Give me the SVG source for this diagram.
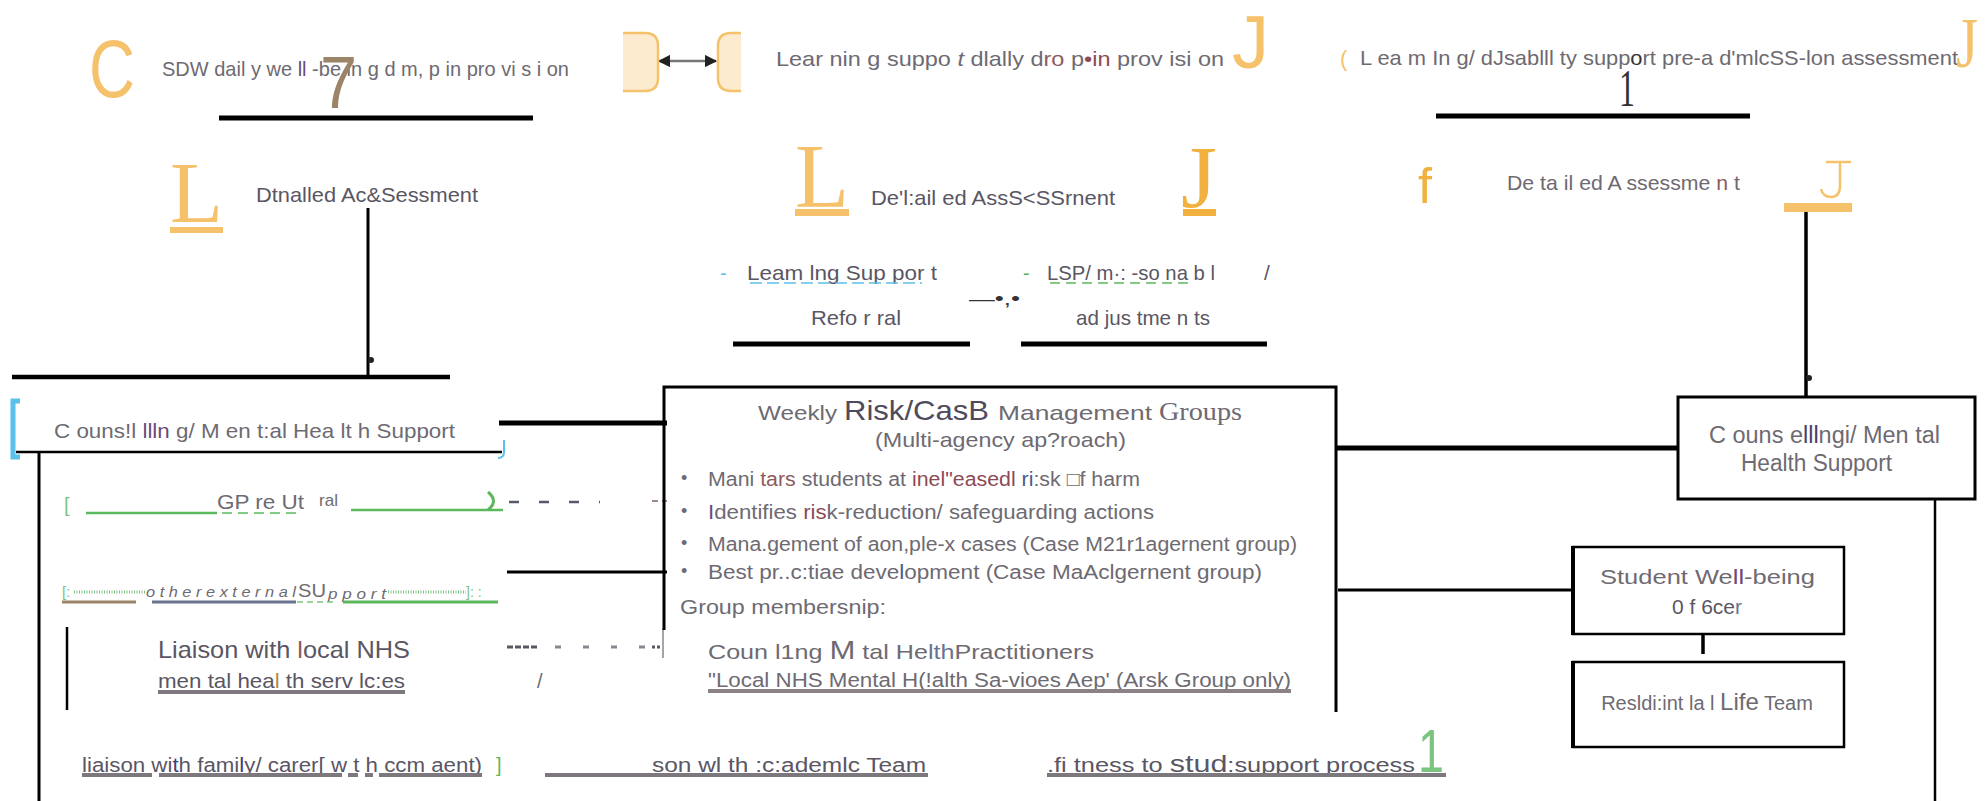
<svg xmlns="http://www.w3.org/2000/svg" width="1987" height="801" viewBox="0 0 1987 801">
<defs>
<marker id="ah" viewBox="0 0 10 10" refX="9" refY="5" markerWidth="5" markerHeight="5" orient="auto-start-reverse"><path d="M0,0 L10,5 L0,10 z" fill="#222"/></marker>
</defs>
<style>
.t{font-family:"Liberation Sans",Arial,sans-serif;fill:#6e6a72;}
.d{fill:#5a5663;}
.s{font-family:"Liberation Serif","Times New Roman",serif;}
.o{fill:#f5c26b;}
.k{stroke:#000;fill:none;}
.u{stroke:#7d777e;stroke-width:4;fill:none;}
</style>
<rect width="1987" height="801" fill="#fff"/>

<g id="connectors" class="k">
  <line x1="219" y1="118" x2="533" y2="118" stroke-width="5"/>
  <line x1="1436" y1="116" x2="1750" y2="116" stroke-width="5"/>
  <line x1="368" y1="208" x2="368" y2="377" stroke-width="3"/>
  <line x1="12" y1="377" x2="450" y2="377" stroke-width="4.5"/>
  <line x1="1806" y1="212" x2="1806" y2="396" stroke-width="3.5"/>
  <line x1="1336" y1="448" x2="1680" y2="448" stroke-width="5"/>
  <line x1="733" y1="344" x2="970" y2="344" stroke-width="5"/>
  <line x1="1021" y1="344" x2="1267" y2="344" stroke-width="5"/>
  <line x1="16" y1="452" x2="502" y2="452" stroke-width="2.5"/>
  <line x1="499" y1="423" x2="667" y2="423" stroke-width="5"/>
  <line x1="39" y1="452" x2="39" y2="801" stroke-width="3"/>
  <line x1="509" y1="502" x2="600" y2="502" stroke="#555a6a" stroke-width="2.5" stroke-dasharray="10,20"/>
  <line x1="652" y1="501" x2="667" y2="501" stroke="#a08a8a" stroke-width="2" stroke-dasharray="6,4"/>
  <line x1="507" y1="572" x2="667" y2="572" stroke-width="3"/>
  <line x1="67" y1="627" x2="67" y2="710" stroke-width="2.5"/>
  <line x1="507" y1="647" x2="538" y2="647" stroke="#5a5663" stroke-width="3" stroke-dasharray="6,2"/>
  <line x1="555" y1="647" x2="650" y2="647" stroke="#8a8590" stroke-width="3" stroke-dasharray="6,22"/>
  <line x1="652" y1="647" x2="660" y2="647" stroke="#5a5663" stroke-width="3" stroke-dasharray="3,2"/>
  <line x1="663" y1="628" x2="663" y2="658" stroke="#8a8590" stroke-width="1.5"/>
  <line x1="1338" y1="590" x2="1573" y2="590" stroke-width="3"/>
  <line x1="1703" y1="634" x2="1703" y2="654" stroke-width="3.5"/>
  <line x1="1935" y1="498" x2="1935" y2="801" stroke-width="2.5"/>
  <line x1="659" y1="61" x2="716" y2="61" stroke="#777" stroke-width="2.5" marker-start="url(#ah)" marker-end="url(#ah)"/>
  <circle cx="371" cy="360" r="3" fill="#222" stroke="none"/>
  <circle cx="1809" cy="378" r="3" fill="#222" stroke="none"/>
</g>

<g id="sdw-dropin">
  <text class="t o" x="89" y="97" font-size="82" textLength="46" lengthAdjust="spacingAndGlyphs">C</text>
  <text class="t" x="162" y="76" font-size="21" textLength="407" lengthAdjust="spacingAndGlyphs">SDW    dail y we <tspan fill="#6a4a7a">ll</tspan> -be in g d m, p in pro vi s i on</text>
  <text class="t" x="320" y="108" font-size="74" fill="#9b8468" style="fill:#9b8468" textLength="37" lengthAdjust="spacingAndGlyphs">7</text>
</g>

<g id="link-nodes">
  <rect x="623" y="32" width="36" height="60" rx="12" fill="#fdebd0" stroke="none"/>
  <rect x="623" y="32" width="20" height="60" fill="#fdebd0" stroke="none"/>
  <path d="M623,33 H645 Q658,33 658,46 V78 Q658,91 645,91 H623" fill="none" stroke="#f5c26b" stroke-width="2.5"/>
  <path d="M741,33 H731 Q718,33 718,46 V78 Q718,91 731,91 H741 Z" fill="#fdebd0" stroke="none"/>
  <path d="M741,33 H731 Q718,33 718,46 V78 Q718,91 731,91 H741" fill="none" stroke="#f5c26b" stroke-width="2.5"/>
</g>

<g id="ls-dropin">
  <text class="t" x="776" y="66" font-size="21" textLength="448" lengthAdjust="spacingAndGlyphs">Lear nin g suppo <tspan font-style="italic">t</tspan> dlally d<tspan fill="#8d5a5e">ro</tspan> p<tspan fill="#8d4a55">•in</tspan> prov isi on</text>
  <text class="t o" x="1232" y="68" font-size="75" textLength="37" lengthAdjust="spacingAndGlyphs">J</text>
</g>

<g id="ls-preadmission">
  <text class="t o" x="1340" y="66" font-size="22">(</text>
  <text class="t" x="1360" y="65" font-size="21" textLength="598" lengthAdjust="spacingAndGlyphs">L ea m In g/ dJsablll ty supp<tspan fill="#333">o</tspan>rt pre-a d'mlcSS-lon assessment</text>
  <text class="s o" x="1956" y="67" font-size="72" textLength="22" lengthAdjust="spacingAndGlyphs">J</text>
  <text class="s" x="1619" y="106" font-size="52" fill="#333" textLength="16" lengthAdjust="spacingAndGlyphs">1</text>
</g>

<g id="assessment-left">
  <text class="s o" x="170" y="222" font-size="86" textLength="53" lengthAdjust="spacingAndGlyphs">L</text>
  <rect x="170" y="227" width="53" height="6" fill="#f5c26b"/>
  <text class="t d" x="256" y="202" font-size="21" textLength="222" lengthAdjust="spacingAndGlyphs">Dtnalled  Ac&amp;Sessment</text>
</g>

<g id="assessment-mid">
  <text class="s o" x="795" y="207" font-size="90" textLength="54" lengthAdjust="spacingAndGlyphs">L</text>
  <rect x="795" y="209" width="54" height="7" fill="#f5c26b"/>
  <text class="t d" x="871" y="205" font-size="21" textLength="244" lengthAdjust="spacingAndGlyphs">De'l:ail  ed  AssS&lt;SSrnent</text>
  <text class="s" x="1181" y="207" font-size="88" fill="#f2b13f" textLength="36" lengthAdjust="spacingAndGlyphs">J</text>
  <rect x="1183" y="209" width="33" height="7" fill="#f2b13f"/>
  <text class="t" x="720" y="280" font-size="20" fill="#5bc0eb" style="fill:#5bc0eb">-</text>
  <text class="t d" x="747" y="280" font-size="21" textLength="190" lengthAdjust="spacingAndGlyphs">Leam  lng  Sup  por t</text>
  <line x1="750" y1="283" x2="922" y2="283" stroke="#5bc0eb" stroke-width="1.5" stroke-dasharray="12,5"/>
  <text class="t" x="1023" y="280" font-size="20" style="fill:#5cb85c">-</text>
  <text class="t d" x="1047" y="280" font-size="21" textLength="168" lengthAdjust="spacingAndGlyphs">LSP/ m·: -so na  b l</text>
  <line x1="1050" y1="283" x2="1190" y2="283" stroke="#5cb85c" stroke-width="1.5" stroke-dasharray="10,6"/>
  <text class="t d" x="1264" y="280" font-size="21">/</text>
  <text class="t d" x="811" y="325" font-size="21" textLength="90" lengthAdjust="spacingAndGlyphs">Refo r ral</text>
  <text class="t" x="969" y="305" font-size="18" style="fill:#333" textLength="51" lengthAdjust="spacingAndGlyphs">—•,•</text>
  <text class="t d" x="1076" y="325" font-size="21" textLength="134" lengthAdjust="spacingAndGlyphs">ad jus tme n ts</text>
</g>

<g id="assessment-right">
  <text class="t" x="1418" y="203" font-size="50" style="fill:#f2b13f" textLength="14" lengthAdjust="spacingAndGlyphs">f</text>
  <text class="t" x="1507" y="190" font-size="21" textLength="233" lengthAdjust="spacingAndGlyphs">De ta il ed A ssessme <tspan fill="#8d5a5e">n</tspan> t</text>
  <path d="M1840,162 V186 Q1840,197 1831,197 Q1823,197 1821,189 M1826,162 H1851" fill="none" stroke="#f5c26b" stroke-width="2.5"/>
  <rect x="1784" y="203" width="68" height="9" fill="#f5c26b"/>
</g>

<g id="counselling-right">
  <rect x="1678" y="397" width="297" height="102" fill="#fff" stroke="#000" stroke-width="3"/>
  <text class="t" x="1709" y="443" font-size="23" textLength="231" lengthAdjust="spacingAndGlyphs">C ouns  e<tspan fill="#4a3f6a">lll</tspan>ngi/ Men tal</text>
  <text class="t" x="1741" y="471" font-size="23" textLength="151" lengthAdjust="spacingAndGlyphs">Health  Support</text>
</g>

<g id="risk-groups">
  <path d="M664,630 V387 H1336 V712" fill="none" stroke="#000" stroke-width="3"/>
  <text class="t" x="758" y="420" font-size="21" textLength="79" lengthAdjust="spacingAndGlyphs">Weekly</text>
  <text class="t" x="844" y="420" font-size="28" style="fill:#4f4b5c" textLength="145" lengthAdjust="spacingAndGlyphs">Risk/CasB</text>
  <text class="t" x="998" y="420" font-size="21" textLength="154" lengthAdjust="spacingAndGlyphs">Management</text>
  <text class="s" x="1159" y="420" font-size="25" fill="#6e6a72" textLength="83" lengthAdjust="spacingAndGlyphs">Groups</text>
  <text class="t" x="875" y="447" font-size="21" textLength="251" lengthAdjust="spacingAndGlyphs">(Multi-agency ap?roach)</text>
  <g class="t" font-size="18">
    <text x="681" y="484">•</text><text x="681" y="517">•</text><text x="681" y="549">•</text><text x="681" y="577">•</text>
  </g>
  <text class="t" x="708" y="486" font-size="20" textLength="432" lengthAdjust="spacingAndGlyphs">Mani <tspan fill="#8d5a5e">tars</tspan> students at <tspan fill="#8d4a55">inel"easedl</tspan> <tspan fill="#4a5a8d">ri</tspan>:sk □f harm</text>
  <text class="t" x="708" y="519" font-size="20" textLength="446" lengthAdjust="spacingAndGlyphs"><tspan fill="#6a4a7a">I</tspan>dentifies  <tspan fill="#8d4a55">ris</tspan>k-reduct<tspan fill="#4a5a8d">i</tspan>on/ safeguarding actions</text>
  <text class="t" x="708" y="551" font-size="20" textLength="589" lengthAdjust="spacingAndGlyphs">Mana.gement of aon,ple-x cases (Case M21r1agernent group)</text>
  <text class="t" x="708" y="579" font-size="20" textLength="554" lengthAdjust="spacingAndGlyphs">Best pr..c:tiae deve<tspan fill="#4a5a8d">l</tspan>opment (Case MaAclgernent  group)</text>
  <text class="t" x="680" y="614" font-size="21" textLength="206" lengthAdjust="spacingAndGlyphs">Group membersnip:</text>
  <text class="t" x="708" y="659" font-size="21" textLength="386" lengthAdjust="spacingAndGlyphs">Coun l1ng <tspan font-size="26">M</tspan>  tal He<tspan fill="#6a7390">lth</tspan>Practitioners</text>
  <text class="t" x="708" y="687" font-size="20" textLength="583" lengthAdjust="spacingAndGlyphs">"Local NHS Mental H(!alth Sa-vioes Aep' (Arsk Group only)</text>
  <line x1="708" y1="691" x2="1291" y2="691" stroke="#8a8287" stroke-width="4"/>
</g>

<g id="counselling-left">
  <path d="M20,401 H13 V457 H20" fill="none" stroke="#5bc0eb" stroke-width="5"/>
  <text class="t" x="54" y="438" font-size="21" textLength="401" lengthAdjust="spacingAndGlyphs">C ouns!l   <tspan fill="#6a4a7a">llln</tspan> g/   M  en  t:al  Hea lt h Support</text>
  <path d="M504,440 V452 Q504,458 498,458" fill="none" stroke="#5bc0eb" stroke-width="2"/>
</g>

<g id="gp-referral">
  <text class="t" x="64" y="512" font-size="20" style="fill:#7bc47f">[</text>
  <line x1="86" y1="513" x2="217" y2="513" stroke="#5cb85c" stroke-width="2.5"/>
  <text class="t" x="217" y="509" font-size="21" textLength="87" lengthAdjust="spacingAndGlyphs">GP  re Ut</text>
  <line x1="222" y1="513" x2="300" y2="513" stroke="#5cb85c" stroke-width="1.5" stroke-dasharray="10,6"/>
  <text class="t" x="319" y="506" font-size="17" textLength="19" lengthAdjust="spacingAndGlyphs">ral</text>
  <line x1="351" y1="510" x2="503" y2="510" stroke="#5cb85c" stroke-width="2.5"/>
  <path d="M488,492 Q499,501 488,510" fill="none" stroke="#5cb85c" stroke-width="3"/>
</g>

<g id="external-support">
  <text class="t" x="62" y="597" font-size="15" style="fill:#7bc47f">[:</text>
  <line x1="74" y1="592" x2="145" y2="592" stroke="#7bc47f" stroke-width="3" stroke-dasharray="1,1.5"/>
  <text class="t" x="146" y="597" font-size="15" font-style="italic" textLength="150" lengthAdjust="spacingAndGlyphs">o   t h e  r    e  x t e  r n a  l</text>
  <text class="t" x="298" y="597" font-size="19" textLength="28" lengthAdjust="spacingAndGlyphs">SU</text>
  <text class="t" x="328" y="599" font-size="15" font-style="italic" textLength="58" lengthAdjust="spacingAndGlyphs">p  p o  r t</text>
  <line x1="388" y1="592" x2="466" y2="592" stroke="#7bc47f" stroke-width="3" stroke-dasharray="1,1.5"/>
  <text class="t" x="466" y="597" font-size="14" style="fill:#7bc47f">]: :</text>
  <line x1="62" y1="602" x2="136" y2="602" stroke="#9b8468" stroke-width="3"/>
  <line x1="152" y1="602" x2="296" y2="602" stroke="#6a7390" stroke-width="3"/>
  <line x1="297" y1="602" x2="335" y2="602" stroke="#7bc47f" stroke-width="1.5" stroke-dasharray="6,4"/>
  <line x1="343" y1="602" x2="498" y2="602" stroke="#5cb85c" stroke-width="3"/>
</g>

<g id="nhs-liaison">
  <text class="t d" x="158" y="658" font-size="24" textLength="252" lengthAdjust="spacingAndGlyphs">Liaison with <tspan fill="#8d5a5e">l</tspan>ocal NHS</text>
  <text class="t d" x="158" y="688" font-size="21" textLength="247" lengthAdjust="spacingAndGlyphs">men tal hea<tspan fill="#b08a3a">l</tspan> th serv lc:es</text>
  <line x1="158" y1="692" x2="405" y2="692" class="u"/>
  <text class="t" x="537" y="688" font-size="20">/</text>
</g>

<g id="family-liaison">
  <text class="t d" x="82" y="772" font-size="20" textLength="400" lengthAdjust="spacingAndGlyphs">liaison  wi<tspan fill="#3a3f7a">t</tspan>h  fami<tspan fill="#3a3f7a">l</tspan>y/ carer[  w   t   h ccm aent)</text>
  <path d="M82,775 H152 M159,775 H342 M348,775 H358 M365,775 H373 M379,775 H482" class="u"/>
  <text class="t" x="496" y="772" font-size="20" style="fill:#5cb85c">]</text>
</g>

<g id="academic-liaison">
  <line x1="545" y1="775" x2="928" y2="775" class="u"/>
  <text class="t d" x="652" y="772" font-size="20" textLength="274" lengthAdjust="spacingAndGlyphs">son  wl th  :c:ademlc  Team</text>
</g>

<g id="fitness-to-study">
  <text class="t d" x="1047" y="772" font-size="20" textLength="368" lengthAdjust="spacingAndGlyphs">.fi tness  to  <tspan font-size="24">stud</tspan>:support  process</text>
  <line x1="1047" y1="775" x2="1446" y2="775" class="u"/>
  <text class="t" x="1418" y="772" font-size="62" style="fill:#7ac47f" textLength="26" lengthAdjust="spacingAndGlyphs">1</text>
</g>

<g id="wellbeing-officer">
  <rect x="1573" y="547" width="271" height="87" fill="#fff" stroke="#000" stroke-width="2.5"/>
  <line x1="1573" y1="546" x2="1573" y2="635" stroke="#000" stroke-width="4"/>
  <text class="t" x="1600" y="584" font-size="21" textLength="215" lengthAdjust="spacingAndGlyphs">Student We<tspan fill="#6a4a7a">ll</tspan>-being</text>
  <text class="t" x="1707" y="614" font-size="21" text-anchor="middle" style="fill:#5a5663">0 f 6ce<tspan fill="#6a7390">r</tspan></text>
</g>

<g id="residential-life">
  <rect x="1573" y="662" width="271" height="85" fill="#fff" stroke="#000" stroke-width="2.5"/>
  <line x1="1573" y1="661" x2="1573" y2="748" stroke="#000" stroke-width="4"/>
  <text class="t" x="1707" y="710" font-size="20" text-anchor="middle">Resldi:int la l <tspan font-size="24">Life</tspan> Team</text>
</g>
</svg>
